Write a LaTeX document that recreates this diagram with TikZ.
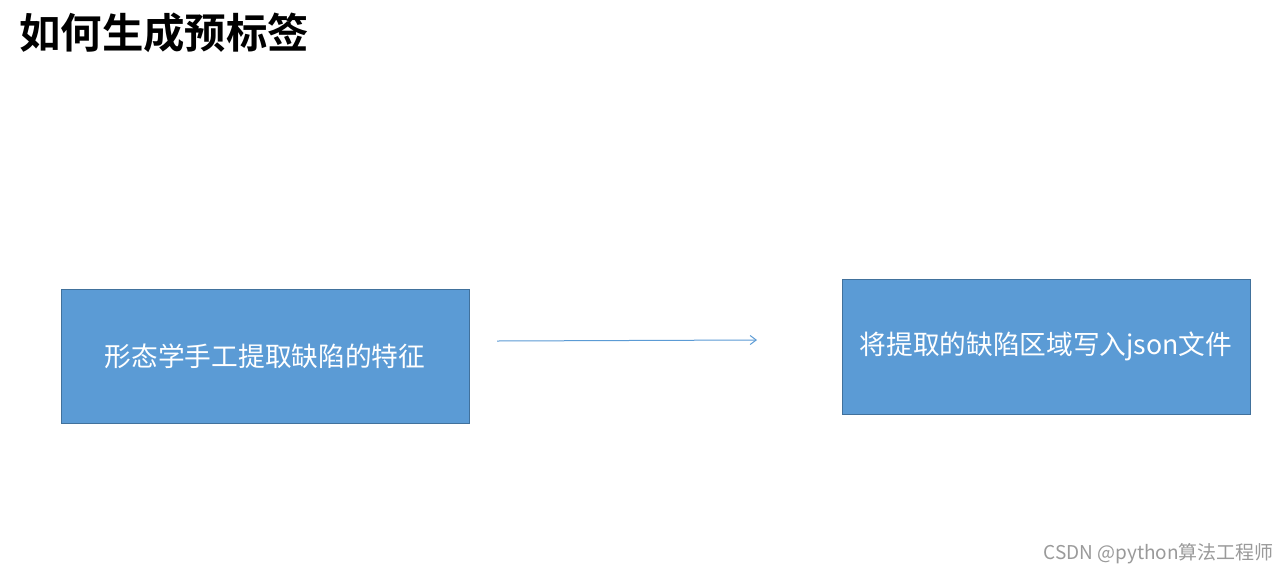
\documentclass[tikz,border=0pt]{standalone}
\usepackage{fontspec}
\setmainfont{Noto Sans CJK SC}
\newfontfamily\cjkbold{Noto Sans CJK SC Bold}
\newfontfamily\cjk{Noto Sans CJK SC}
\usetikzlibrary{arrows.meta}
\definecolor{boxfill}{HTML}{5B9BD5}
\definecolor{boxline}{HTML}{41719C}
\definecolor{wm}{HTML}{9A9A9A}
\begin{document}
\begin{tikzpicture}[x=1pt,y=-1pt,
  procbox/.style={draw=boxline,line width=0.8pt,fill=boxfill,text=white,inner sep=0pt,
    font=\cjk\fontsize{26.7}{30}\selectfont},
  flowarrow/.style={draw=boxfill,line width=1pt,-{Straight Barb[length=6pt,width=9pt]}}]
\useasboundingbox[fill=white] (0,0) rectangle (1288,574);
\node[anchor=west,inner sep=0pt,font=\cjkbold\fontsize{41.4}{44}\selectfont] (title) at (19,33) {如何生成预标签};
\node[procbox,minimum width=408pt,minimum height=134pt] (a) at (265,356) {形态学手工提取缺陷的特征};
\node[procbox,minimum width=408pt,minimum height=135pt] (b) at (1046,346.5) {将提取的缺陷区域写入json文件};
\coordinate (s) at (497,341);
\coordinate (e) at (757,340);
\draw[flowarrow] (s) -- (e);
\node[anchor=east,inner sep=0pt,text=wm,font=\cjk\fontsize{19}{21}\selectfont] (w) at (1274,554) {CSDN @python算法工程师};
\end{tikzpicture}
\end{document}
